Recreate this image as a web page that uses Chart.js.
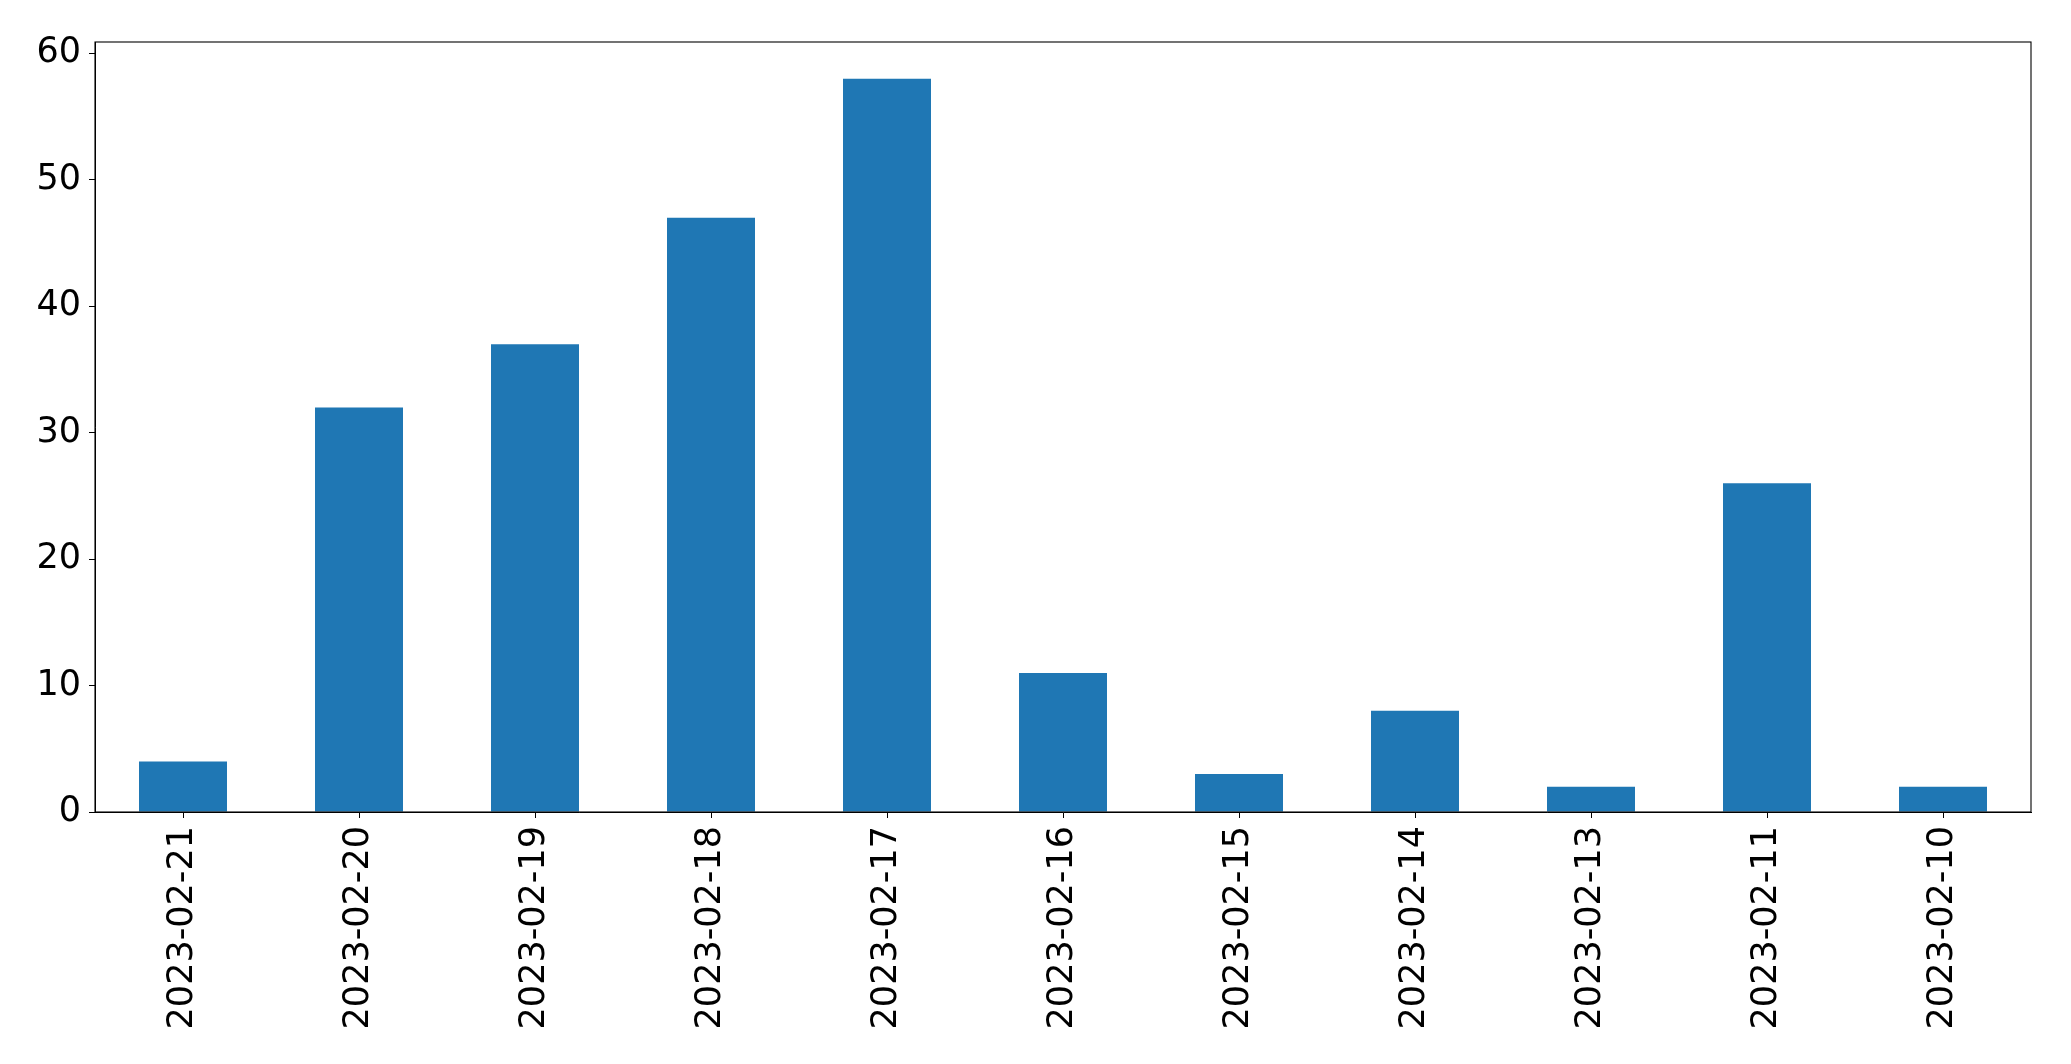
<!DOCTYPE html>
<html>
<head>
<meta charset="utf-8">
<script src="https://cdn.jsdelivr.net/npm/chart.js@4.4.0/dist/chart.umd.min.js"></script>
<style>
  html, body { margin: 0; padding: 0; background: #fff; }
  #wrap { width: 2071px; height: 1064px; }
</style>
</head>
<body>
<div id="wrap"><canvas id="barChart" width="2071" height="1064"></canvas></div>
<script>
// данные с картинки
const dates = ['2023-02-21', '2023-02-20', '2023-02-19', '2023-02-18', '2023-02-17', '2023-02-16',
               '2023-02-15', '2023-02-14', '2023-02-13', '2023-02-11', '2023-02-10'];
const counts = [4, 32, 37, 47, 58, 11, 3, 8, 2, 26, 2];
const yTicks = [0, 10, 20, 30, 40, 50, 60];

// рамка вокруг области графика (как у matplotlib)
const frame = {
    id: 'frame',
    afterDraw(chart) {
        const { ctx, chartArea: a } = chart;
        ctx.save();
        ctx.strokeStyle = '#000';
        ctx.lineWidth = 1.1;
        ctx.strokeRect(a.left, a.top, a.right - a.left, a.bottom - a.top);
        ctx.restore();
    }
};

Chart.defaults.font.family = '"DejaVu Sans", sans-serif';
Chart.defaults.color = '#000';

new Chart(document.getElementById('barChart').getContext('2d'), {
    type: 'bar',
    data: {
        labels: dates,
        datasets: [{
            data: counts,
            backgroundColor: '#1f77b4',
            barPercentage: 0.5,
            categoryPercentage: 1.0
        }]
    },
    options: {
        responsive: false,
        animation: false,
        layout: { padding: { top: 42, right: 40, left: 0, bottom: 0 } },
        plugins: { legend: { display: false }, tooltip: { enabled: false } },
        scales: {
            x: {
                offset: true,
                grid: { drawOnChartArea: false, tickLength: 6, color: '#000', offset: false },
                border: { color: '#000', width: 1 },
                ticks: { font: { size: 35 }, maxRotation: 90, minRotation: 90, padding: 8, autoSkip: false },
                afterFit(scale) { scale.height = 252; }
            },
            y: {
                min: 0,
                max: 60.9,
                afterBuildTicks(scale) { scale.ticks = yTicks.map(v => ({ value: v })); },
                grid: { drawOnChartArea: false, tickLength: 6, color: '#000' },
                border: { color: '#000', width: 1 },
                ticks: { font: { size: 35 }, padding: 8 },
                afterFit(scale) { scale.width = 95; }
            }
        }
    },
    plugins: [frame]
});
</script>
</body>
</html>
